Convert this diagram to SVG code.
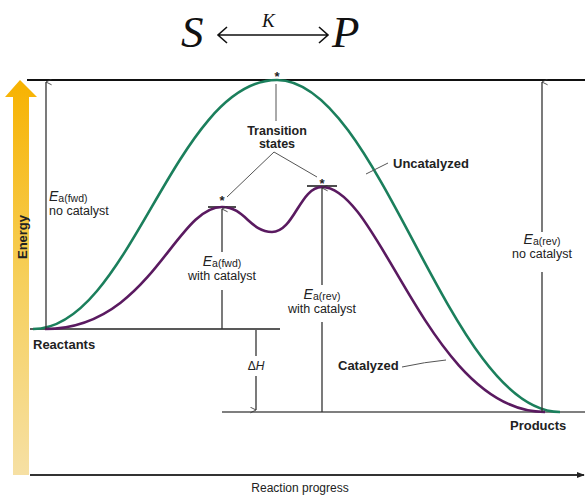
<svg xmlns="http://www.w3.org/2000/svg" width="585" height="497" viewBox="0 0 585 497">
<defs>
<linearGradient id="eg" x1="0" y1="80" x2="0" y2="475" gradientUnits="userSpaceOnUse">
<stop offset="0" stop-color="#f7b200"/>
<stop offset="0.5" stop-color="#f6cf5a"/>
<stop offset="1" stop-color="#f6e0a4"/>
</linearGradient>
<marker id="open" viewBox="0 0 10 10" refX="5" refY="1" markerWidth="7" markerHeight="9" markerUnits="userSpaceOnUse" orient="auto-start-reverse">
<path d="M1,9 L5,1 L9,9" fill="none" stroke="#333" stroke-width="1.2"/>
</marker>
<marker id="fill" viewBox="0 0 10 10" refX="9" refY="5" markerWidth="8" markerHeight="8" markerUnits="userSpaceOnUse" orient="auto">
<path d="M0,1 L10,5 L0,9 Z" fill="#222"/>
</marker>
</defs>
<style>
.t{font-family:"Liberation Sans",Arial,sans-serif;fill:#222}
.b{font-weight:bold;font-size:13px}
.r{font-size:12.5px}
.e{font-style:italic;font-size:14px}
.sub{font-size:10.5px}
.ttl{font-family:"Liberation Serif","Times New Roman",serif;font-style:italic;fill:#111}
.ln{stroke:#333;stroke-width:1.3;fill:none}
.thin{stroke:#555;stroke-width:1;fill:none}
.cv{fill:none;stroke-width:2.6}
</style>
<rect width="585" height="497" fill="#fff"/>

<g id="title">
<text class="ttl" x="181" y="47" font-size="45">S</text>
<text class="ttl" x="262" y="27" font-size="19">K</text>
<text class="ttl" x="332" y="47" font-size="45">P</text>
<path d="M218,35 H328 M227,27 L218,35 L227,43 M319,27 L328,35 L319,43" fill="none" stroke="#111" stroke-width="1.6"/>
</g>

<g id="energy-axis">
<polygon points="5,97 20,80 37,97 29,97 29,475 13,475 13,97" fill="url(#eg)"/>
<text class="t" font-weight="bold" font-size="13" transform="translate(27,237) rotate(-90)" text-anchor="middle" fill="#111">Energy</text>
</g>

<g id="progress-axis">
<line x1="30" y1="475" x2="584" y2="475" stroke="#333" stroke-width="2" marker-end="url(#fill)"/>
<text class="t" x="300" y="492" font-size="12" text-anchor="middle" fill="#333">Reaction progress</text>
</g>

<g id="levels">
<line x1="27" y1="80" x2="585" y2="80" stroke="#111" stroke-width="2"/>
<line x1="30" y1="329" x2="280" y2="329" stroke="#222" stroke-width="1.6"/>
<line x1="222" y1="412" x2="585" y2="412" stroke="#555" stroke-width="1.5"/>
<line x1="208" y1="207" x2="236" y2="207" stroke="#222" stroke-width="1.6"/>
<line x1="307" y1="186" x2="337" y2="186" stroke="#222" stroke-width="1.6"/>
</g>

<g id="uncatalyzed-curve">
<path class="cv" stroke="#1b7f5c" d="M33,329 C130,329 175,80 277,80 C380,80 450,412 560,412"/>
</g>
<g id="catalyzed-curve">
<path class="cv" stroke="#5a1a60" d="M45,329 C150,329 175,207 222,207 C245,207 250,232 272,232 C294,232 300,187 322,187 C380,187 430,412 545,412"/>
</g>

<g id="connectors">
<line class="ln" x1="46" y1="329" x2="46" y2="82" marker-end="url(#open)"/>
<line class="ln" x1="222" y1="329" x2="222" y2="290"/>
<line class="ln" x1="222" y1="252" x2="222" y2="209" marker-end="url(#open)"/>
<line class="ln" x1="322" y1="412" x2="322" y2="322"/>
<line class="ln" x1="322" y1="285" x2="322" y2="188" marker-end="url(#open)"/>
<line class="ln" x1="256" y1="330" x2="256" y2="356"/>
<line class="ln" x1="256" y1="376" x2="256" y2="410" marker-end="url(#open)"/>
<line class="ln" x1="542" y1="412" x2="542" y2="272"/>
<line class="ln" x1="542" y1="232" x2="542" y2="82" marker-end="url(#open)"/>
<path class="thin" d="M276,84 V121 M274,152 L227,197 M274,152 L317,177"/>
<path class="thin" d="M366,174 L388,163"/>
<path class="thin" d="M402,367 Q425,362 446,360"/>
</g>

<g id="stars">
<text class="t" font-weight="bold" font-size="13" x="277" y="81" text-anchor="middle">*</text>
<text class="t" font-weight="bold" font-size="13" x="222" y="205" text-anchor="middle">*</text>
<text class="t" font-weight="bold" font-size="13" x="322" y="188" text-anchor="middle">*</text>
</g>

<g id="label-ts">
<text class="t" font-weight="bold" font-size="12.5" x="277" y="135" text-anchor="middle">Transition</text>
<text class="t" font-weight="bold" font-size="12.5" x="277" y="148" text-anchor="middle">states</text>
</g>
<g id="label-uncat"><text class="t b" x="393" y="168">Uncatalyzed</text></g>
<g id="label-cat"><text class="t b" x="338" y="370">Catalyzed</text></g>
<g id="label-reactants"><text class="t b" x="33" y="349">Reactants</text></g>
<g id="label-products"><text class="t b" x="510" y="430">Products</text></g>

<g id="label-ea-fwd-nocat">
<text class="t" x="49" y="201"><tspan class="e">E</tspan><tspan class="sub" dy="1">a(fwd)</tspan></text>
<text class="t r" x="49" y="215">no catalyst</text>
</g>
<g id="label-ea-fwd-cat">
<text class="t" x="222" y="266" text-anchor="middle"><tspan class="e">E</tspan><tspan class="sub" dy="1">a(fwd)</tspan></text>
<text class="t r" x="222" y="280" text-anchor="middle">with catalyst</text>
</g>
<g id="label-ea-rev-cat">
<text class="t" x="322" y="299" text-anchor="middle"><tspan class="e">E</tspan><tspan class="sub" dy="1">a(rev)</tspan></text>
<text class="t r" x="322" y="313" text-anchor="middle">with catalyst</text>
</g>
<g id="label-ea-rev-nocat">
<text class="t" x="542" y="244" text-anchor="middle"><tspan class="e">E</tspan><tspan class="sub" dy="1">a(rev)</tspan></text>
<text class="t r" x="542" y="258" text-anchor="middle">no catalyst</text>
</g>
<g id="label-dh">
<text class="t" x="256" y="370" font-size="12" text-anchor="middle">Δ<tspan font-style="italic">H</tspan></text>
</g>
</svg>
